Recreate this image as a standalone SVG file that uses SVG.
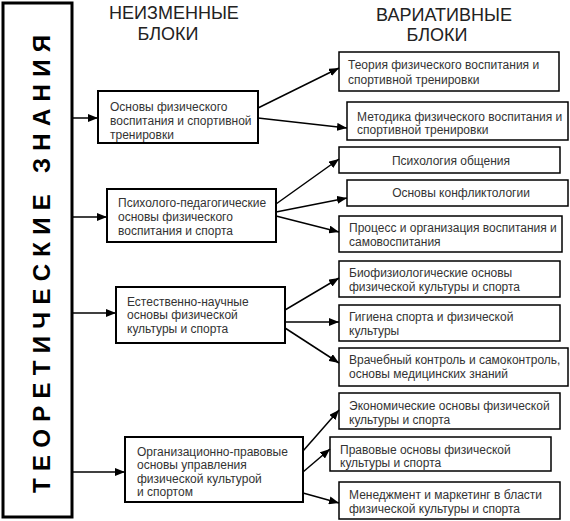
<svg xmlns="http://www.w3.org/2000/svg" width="570" height="521" viewBox="0 0 570 521">
<defs>
<marker id="ah" markerWidth="10" markerHeight="8" refX="10" refY="4" orient="auto" markerUnits="userSpaceOnUse">
<path d="M0,0 L10,4 L0,8 z" fill="#000"/>
</marker>
<style>
.t{font-family:"Liberation Sans",Arial,sans-serif;font-size:12px;fill:#333}
.h{font-family:"Liberation Sans",Arial,sans-serif;font-size:18px;fill:#222;text-anchor:middle}
.lb{fill:#fff;stroke:#000;stroke-width:2}
.rb{fill:#fff;stroke:#000;stroke-width:1.5}
.c line{stroke:#000;stroke-width:1.5;marker-end:url(#ah)}
</style>
</defs>
<rect width="570" height="521" fill="#fff"/>
<g id="main">
<rect x="3" y="3" width="69" height="514" fill="#fff" stroke="#000" stroke-width="3"/>
<text transform="translate(50,264) rotate(-90)" text-anchor="middle" textLength="458" lengthAdjust="spacing" style="font-family:'Liberation Sans',Arial,sans-serif;font-size:24px;font-weight:bold;fill:#000">ТЕОРЕТИЧЕСКИЕ ЗНАНИЯ</text>
</g>
<g id="headers">
<text class="h" x="174" y="19">НЕИЗМЕННЫЕ</text>
<text class="h" x="168" y="40">БЛОКИ</text>
<text class="h" x="444" y="21">ВАРИАТИВНЫЕ</text>
<text class="h" x="437" y="41">БЛОКИ</text>
</g>
<g id="l1"><rect class="lb" x="98" y="91" width="160" height="52"/>
<text class="t" x="110" y="111">Основы физического</text><text class="t" x="110" y="125">воспитания и спортивной</text><text class="t" x="110" y="139">тренировки</text></g>
<g id="l2"><rect class="lb" x="107" y="189" width="169" height="53"/>
<text class="t" x="118" y="207">Психолого-педагогические</text><text class="t" x="118" y="221">основы физического</text><text class="t" x="118" y="235">воспитания и спорта</text></g>
<g id="l3"><rect class="lb" x="116" y="287" width="169" height="56"/>
<text class="t" x="127" y="306">Естественно-научные</text><text class="t" x="127" y="319">основы физической</text><text class="t" x="127" y="333">культуры и спорта</text></g>
<g id="l4"><rect class="lb" x="125" y="437" width="178" height="65"/>
<text class="t" x="137" y="456">Организационно-правовые</text><text class="t" x="137" y="469">основы управления</text><text class="t" x="137" y="483">физической культурой</text><text class="t" x="137" y="496">и спортом</text></g>
<g id="r1"><rect class="rb" x="339" y="52" width="220" height="39"/>
<text class="t" x="348" y="69">Теория физического воспитания и</text><text class="t" x="348" y="84">спортивной тренировки</text></g>
<g id="r2"><rect class="rb" x="347" y="102" width="221" height="38"/>
<text class="t" x="357" y="121">Методика физического воспитания и</text><text class="t" x="357" y="134">спортивной тренировки</text></g>
<g id="r3"><rect class="rb" x="339" y="147" width="221" height="26"/>
<text class="t" x="451" y="165" text-anchor="middle">Психология общения</text></g>
<g id="r4"><rect class="rb" x="347" y="180" width="221" height="26"/>
<text class="t" x="461" y="197" text-anchor="middle">Основы конфликтологии</text></g>
<g id="r5"><rect class="rb" x="339" y="216" width="223" height="36"/>
<text class="t" x="349" y="232">Процесс и организация воспитания и</text><text class="t" x="349" y="246">самовоспитания</text></g>
<g id="r6"><rect class="rb" x="339" y="261" width="221" height="36"/>
<text class="t" x="349" y="277">Биофизиологические основы</text><text class="t" x="349" y="291">физической культуры и спорта</text></g>
<g id="r7"><rect class="rb" x="339" y="305" width="221" height="36"/>
<text class="t" x="349" y="321">Гигиена спорта и физической</text><text class="t" x="349" y="335">культуры</text></g>
<g id="r8"><rect class="rb" x="339" y="348" width="229" height="38"/>
<text class="t" x="349" y="364">Врачебный контроль и самоконтроль,</text><text class="t" x="349" y="378">основы медицинских знаний</text></g>
<g id="r9"><rect class="rb" x="339" y="393" width="221" height="36"/>
<text class="t" x="349" y="410">Экономические основы физической</text><text class="t" x="349" y="424">культуры и спорта</text></g>
<g id="r10"><rect class="rb" x="330" y="437" width="221" height="34"/>
<text class="t" x="340" y="454">Правовые основы физической</text><text class="t" x="340" y="467">культуры и спорта</text></g>
<g id="r11"><rect class="rb" x="339" y="482" width="221" height="37"/>
<text class="t" x="349" y="499">Менеджмент и маркетинг в бласти</text><text class="t" x="349" y="513">физической культуры и спорта</text></g>
<g id="connectors" class="c">
<line x1="73" y1="118" x2="98" y2="118"/>
<line x1="73" y1="217" x2="107" y2="217"/>
<line x1="73" y1="313" x2="116" y2="313"/>
<line x1="73" y1="472" x2="125" y2="472"/>
<line x1="258" y1="108" x2="339" y2="68"/>
<line x1="258" y1="118" x2="347" y2="128"/>
<line x1="276" y1="204" x2="339" y2="159"/>
<line x1="276" y1="212" x2="347" y2="198"/>
<line x1="276" y1="216" x2="339" y2="232"/>
<line x1="285" y1="310" x2="339" y2="278"/>
<line x1="285" y1="322" x2="339" y2="322"/>
<line x1="285" y1="328" x2="339" y2="363"/>
<line x1="303" y1="451" x2="339" y2="410"/>
<line x1="303" y1="472" x2="330" y2="449"/>
<line x1="303" y1="493" x2="339" y2="503"/>
</g>
</svg>
